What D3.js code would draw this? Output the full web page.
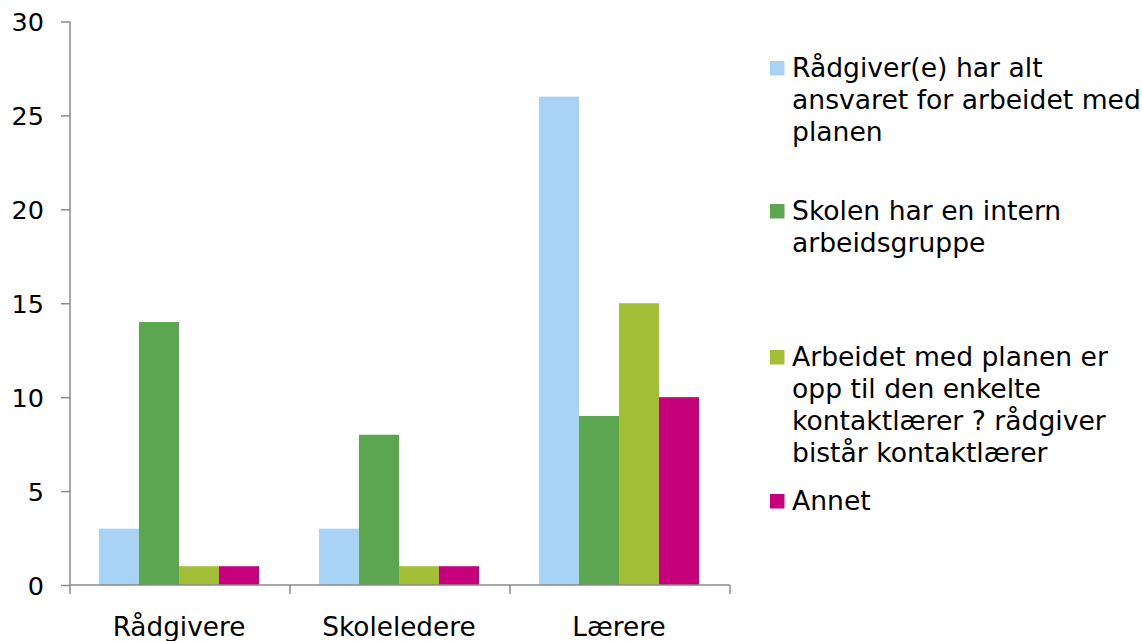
<!DOCTYPE html>
<html>
<head>
<meta charset="utf-8">
<script src="https://cdn.jsdelivr.net/npm/d3@7/dist/d3.min.js"></script>
<style>
  html, body { margin: 0; padding: 0; background: #fff; }
  svg { display: block; }
  text { font-family: "DejaVu Sans", Verdana, sans-serif; fill: #000; }
</style>
</head>
<body>
<svg id="chart" width="1142" height="641"></svg>
<script>
const categories = ["Rådgivere", "Skoleledere", "Lærere"];
const seriesNames = [
  "Rådgiver(e) har alt ansvaret for arbeidet med planen",
  "Skolen har en intern arbeidsgruppe",
  "Arbeidet med planen er opp til den enkelte kontaktlærer ? rådgiver bistår kontaktlærer",
  "Annet"
];
const legendLines = [
  ["Rådgiver(e) har alt", "ansvaret for arbeidet med", "planen"],
  ["Skolen har en intern", "arbeidsgruppe"],
  ["Arbeidet med planen er", "opp til den enkelte", "kontaktlærer ? rådgiver", "bistår kontaktlærer"],
  ["Annet"]
];
const seriesRadgiverAnsvar = [3, 3, 26];
const seriesArbeidsgruppe = [14, 8, 9];
const seriesKontaktlaerer = [1, 1, 15];
const seriesAnnet = [1, 1, 10];
const yTicks = [0, 5, 10, 15, 20, 25, 30];
const colors = ["#a9d3f4", "#5ca651", "#a3bf37", "#c5007a"];

const seriesValues = [seriesRadgiverAnsvar, seriesArbeidsgruppe, seriesKontaktlaerer, seriesAnnet];

const svg = d3.select("#chart");
const mLeft = 70, mRight = 730, mTop = 21.5, mBottom = 585;

const x = d3.scaleBand().domain(categories).range([mLeft, mRight]).padding(0);
const groupWidth = 160;
const xInner = d3.scaleBand().domain(d3.range(seriesNames.length)).range([0, groupWidth]).padding(0);
const groupOffset = (x.bandwidth() - groupWidth) / 2 - 1;
const y = d3.scaleLinear().domain([0, 30]).range([mBottom, mTop]);

// bars
const groups = svg.append("g").selectAll("g")
  .data(categories)
  .join("g")
  .attr("transform", d => `translate(${x(d) + groupOffset},0)`);

groups.selectAll("rect")
  .data((c, ci) => seriesValues.map((vals, si) => ({ si, v: vals[ci] })))
  .join("rect")
  .attr("x", d => xInner(d.si))
  .attr("width", xInner.bandwidth())
  .attr("y", d => y(d.v))
  .attr("height", d => y(0) - y(d.v))
  .attr("fill", d => colors[d.si]);

const axisColor = "#8a8a8a";

// y axis
const yAxis = svg.append("g")
  .attr("transform", `translate(${mLeft},0)`)
  .call(d3.axisLeft(y).tickValues(yTicks).tickSize(9).tickPadding(17).tickFormat(d3.format("d")));
yAxis.select(".domain").attr("stroke", axisColor).attr("stroke-width", 1.5).attr("d", `M0,${mTop}V${mBottom}`);
yAxis.selectAll(".tick line").attr("stroke", axisColor).attr("stroke-width", 1.5);
yAxis.selectAll(".tick text").attr("font-size", 25.5).attr("font-family", "DejaVu Sans").attr("fill", "#000").attr("dy", "0.36em");

// x axis
const boundaries = categories.map(c => x(c)).concat([x(categories[categories.length - 1]) + x.bandwidth()]);
const xAxisG = svg.append("g");
xAxisG.append("line")
  .attr("x1", mLeft).attr("x2", mRight).attr("y1", mBottom).attr("y2", mBottom)
  .attr("stroke", axisColor).attr("stroke-width", 1.5);
xAxisG.selectAll("line.tk")
  .data(boundaries)
  .join("line")
  .attr("class", "tk")
  .attr("x1", d => d).attr("x2", d => d)
  .attr("y1", mBottom).attr("y2", mBottom + 9)
  .attr("stroke", axisColor).attr("stroke-width", 1.5);
xAxisG.selectAll("text")
  .data(categories)
  .join("text")
  .attr("x", d => x(d) + x.bandwidth() / 2 - 1)
  .attr("y", 636)
  .attr("text-anchor", "middle")
  .attr("font-size", 26.3)
  .text(d => d);

// legend
const legendBaselines = [77, 220, 366, 510];
const lineH = 32;
const legend = svg.append("g");
legendLines.forEach((lines, i) => {
  const g = legend.append("g");
  g.append("rect")
    .attr("x", 770).attr("y", legendBaselines[i] - 16)
    .attr("width", 14.5).attr("height", 14.5)
    .attr("fill", colors[i]);
  const t = g.append("text")
    .attr("x", 792).attr("y", legendBaselines[i])
    .attr("font-size", 26.6);
  t.selectAll("tspan")
    .data(lines)
    .join("tspan")
    .attr("x", 792)
    .attr("dy", (d, j) => j === 0 ? 0 : lineH)
    .text(d => d);
});
</script>
</body>
</html>
